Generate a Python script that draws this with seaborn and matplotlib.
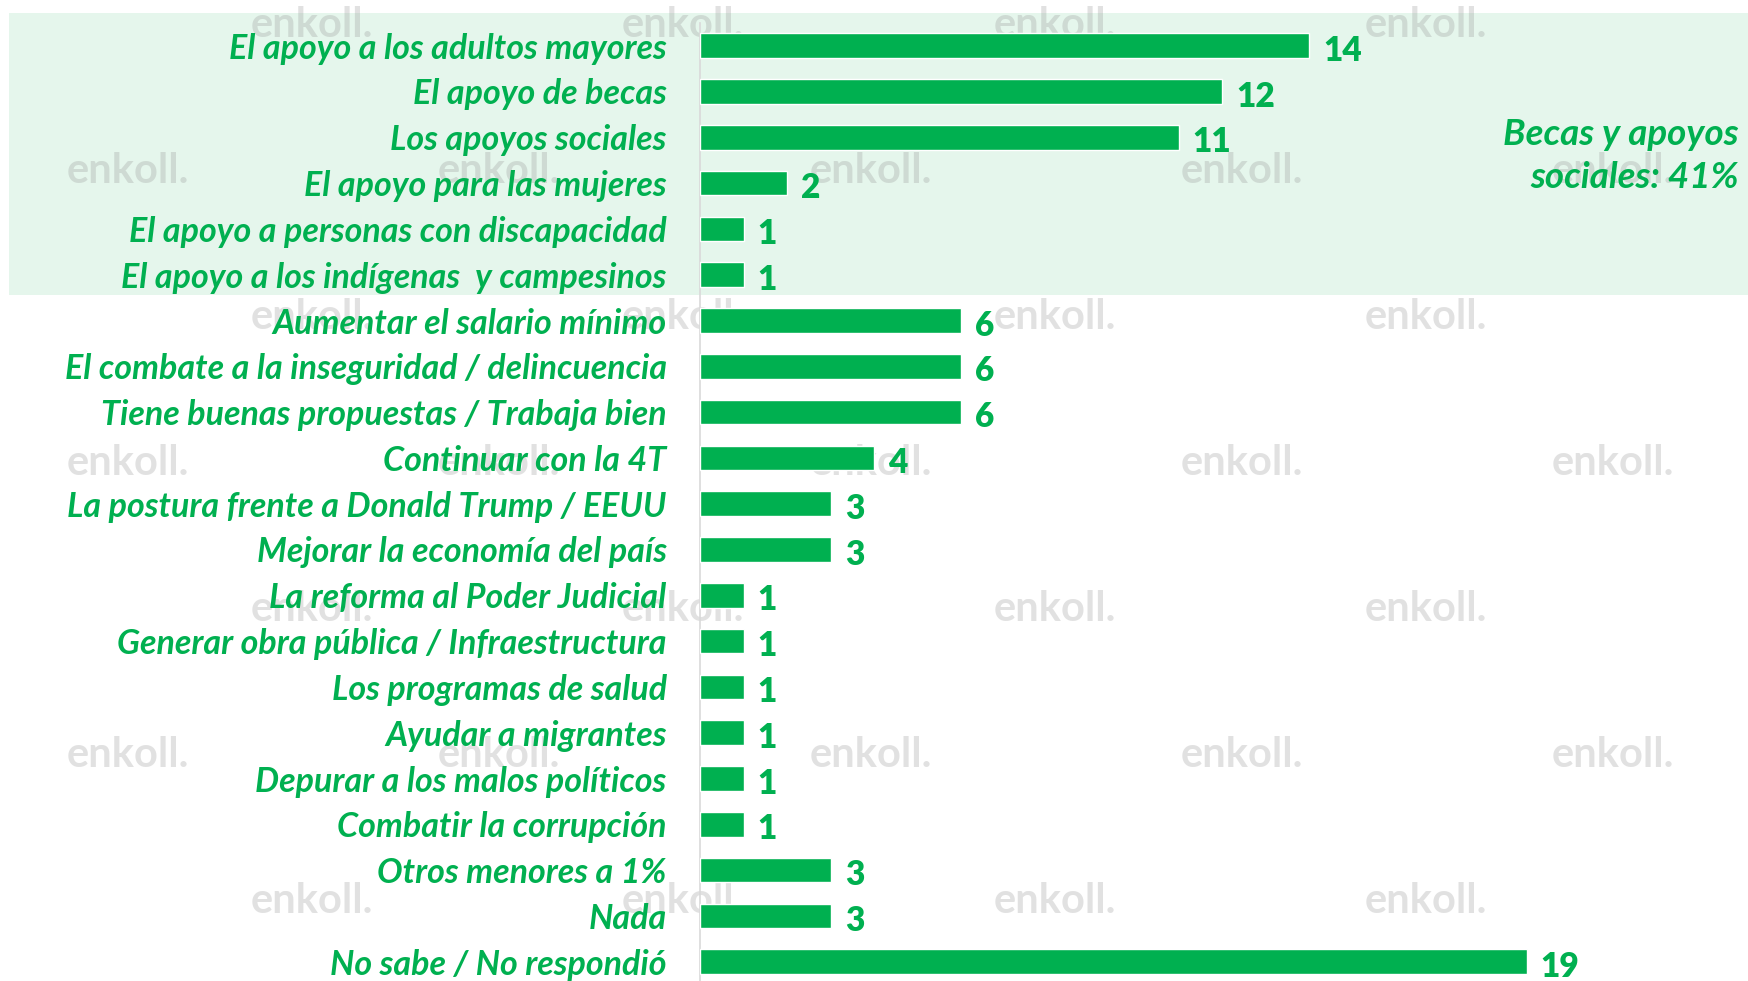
import matplotlib
matplotlib.use("Agg")
import matplotlib.pyplot as plt
import matplotlib.transforms as mtransforms
from matplotlib.patches import Rectangle
import seaborn as sns
import pandas as pd

categories = [
    "El apoyo a los adultos mayores",
    "El apoyo de becas",
    "Los apoyos sociales",
    "El apoyo para las mujeres",
    "El apoyo a personas con discapacidad",
    "El apoyo a los indígenas  y campesinos",
    "Aumentar el salario mínimo",
    "El combate a la inseguridad / delincuencia",
    "Tiene buenas propuestas / Trabaja bien",
    "Continuar con la 4T",
    "La postura frente a Donald Trump / EEUU",
    "Mejorar la economía del país",
    "La reforma al Poder Judicial",
    "Generar obra pública / Infraestructura",
    "Los programas de salud",
    "Ayudar a migrantes",
    "Depurar a los malos políticos",
    "Combatir la corrupción",
    "Otros menores a 1%",
    "Nada",
    "No sabe / No respondió",
]
values = [14, 12, 11, 2, 1, 1, 6, 6, 6, 4, 3, 3, 1, 1, 1, 1, 1, 1, 3, 3, 19]
annotation_text = "Becas y apoyos\nsociales: 41%"
watermark = "enkoll."

GREEN = "#00B050"
BAND = "#E5F6EC"

df = pd.DataFrame({"cat": categories, "val": values})

sns.set_theme(style="white")
plt.rcParams["font.family"] = ["Lato", "DejaVu Sans"]

W, H = 1748, 981
fig = plt.figure(figsize=(W / 100, H / 100), dpi=100)
fig.patch.set_facecolor("white")

ax_left = 700 / W
ax = fig.add_axes([ax_left, 0, 1 - ax_left, 1])
ax.set_facecolor("none")
ax.set_zorder(1)

px_per_unit = 43.5
xmax = (W - 700) / px_per_unit
row0 = 45.7
step = 45.8
ytop = -row0 / step
ybot = (H - row0) / step

sns.barplot(data=df, y="cat", x="val", orient="h", color=GREEN,
            saturation=1, width=0.535, ax=ax, zorder=3)

ax.set_xlim(0, xmax)
ax.set_ylim(ybot, ytop)
ax.set_xlabel("")
ax.set_ylabel("")
ax.set_xticks([])

# highlight band (behind everything, figure level)
trans = mtransforms.blended_transform_factory(fig.transFigure, ax.transData)
band_top = (13 - row0) / step
band_bot = (295 - row0) / step
band = Rectangle((9 / W, band_top), 1 - 9 / W, band_bot - band_top,
                 transform=trans, facecolor=BAND, edgecolor="none", zorder=-2)
fig.add_artist(band)

# watermark pattern (background decoration, above band, below bars/text)
S = W / 1568
for r in range(7):
    y_px = (22 + 131 * r) * S
    x0 = 185 if r % 2 == 0 else 20
    for k in range(0, 5):
        x_px = (x0 + 333 * k + 40) * S
        if x_px + 140 > W:
            continue
        fig.text(x_px / W, 1 - y_px / H, watermark,
                 color="#8a8a8a", alpha=0.25, fontsize=30, fontweight="bold",
                 ha="left", va="center", zorder=-1)

for s in ["top", "right", "bottom"]:
    ax.spines[s].set_visible(False)
ax.spines["left"].set_color("#d9d9d9")
ax.spines["left"].set_linewidth(1.2)
ax.spines["left"].set_bounds(-0.5, ybot)

ax.tick_params(axis="y", length=0, pad=24)
for lbl in ax.get_yticklabels():
    lbl.set_color(GREEN)
    lbl.set_fontsize(24.5)
    lbl.set_fontweight("bold")
    lbl.set_fontstyle("italic")

for i, v in enumerate(values):
    ax.text(v + 0.33, i + 0.33, f"{v}", color=GREEN, fontsize=24,
            fontweight="heavy", ha="left", va="baseline", zorder=4)

fig.text(1739 / W, 1 - 156 / H, annotation_text, color=GREEN, fontsize=26.5,
         fontweight="bold", fontstyle="italic", ha="right", va="center",
         linespacing=1.4, zorder=5)

fig.savefig("out.png", dpi=100, facecolor="white")
